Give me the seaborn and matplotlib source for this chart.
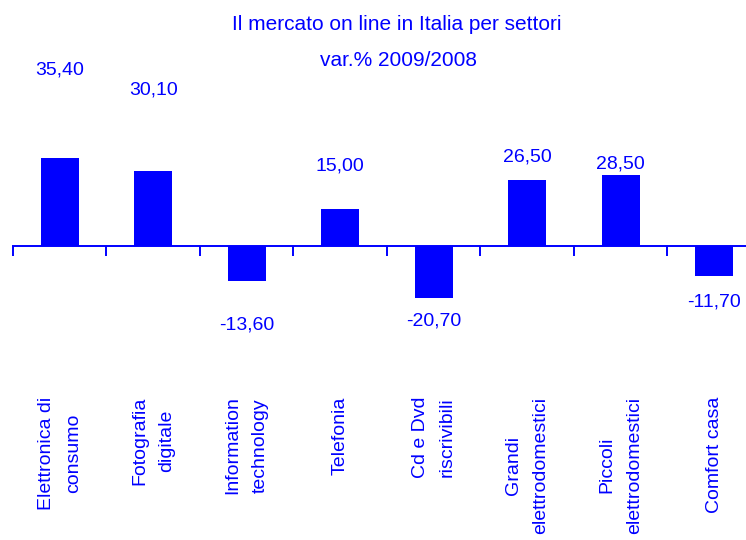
import numpy as np
import pandas as pd
import matplotlib
matplotlib.use('Agg')
import matplotlib.pyplot as plt
import seaborn as sns

# data
settori = ['Elettronica di\nconsumo', 'Fotografia\ndigitale', 'Information\ntechnology',
           'Telefonia', 'Cd e Dvd\nriscrivibili', 'Grandi\nelettrodomestici',
           'Piccoli\nelettrodomestici', 'Comfort casa']
variazione = [35.4, 30.1, -13.6, 15.0, -20.7, 26.5, 28.5, -11.7]
etichette = ['35,40', '30,10', '-13,60', '15,00', '-20,70', '26,50', '28,50', '-11,70']
# where the value labels sit (data units), as in the original layout
pos_etichette = [70.1, 62.2, -31.5, 31.9, -29.9, 35.5, 32.7, -22.3]

blu = '#0000ff'
font = ['Liberation Sans Narrow', 'Liberation Sans', 'DejaVu Sans']

sns.set_style('white')
plt.rcParams['font.family'] = font

df = pd.DataFrame({'settore': settori, 'var': variazione})

fig = plt.figure(figsize=(7.46, 5.40), dpi=100)
ax = fig.add_axes([13 / 746, (540 - 397) / 540, (761 - 13) / 746, 376.5 / 540])

sns.barplot(data=df, x='settore', y='var', color=blu, saturation=1,
            width=0.41, ax=ax, edgecolor='none')

ax.set_xlim(-0.5, 7.5)
ax.set_ylim(-60, 90)

for sp in ['left', 'right', 'top']:
    ax.spines[sp].set_visible(False)
ax.spines['bottom'].set_position(('data', 0))
ax.spines['bottom'].set_color(blu)
ax.spines['bottom'].set_linewidth(1.4)

n = len(settori)
ax.set_xticks(np.arange(n + 1) - 0.5)
ax.set_xticklabels([''] * (n + 1))
ax.set_xticks(np.arange(n), minor=True)
ax.set_xticklabels(settori, minor=True, rotation=90, ha='center', va='top',
                   multialignment='center', linespacing=1.8,
                   color=blu, fontsize=14)
ax.tick_params(axis='x', which='major', direction='out', length=7, width=1.4,
               color=blu, bottom=True)
ax.tick_params(axis='x', which='minor', length=0, pad=108)
ax.set_yticks([])
ax.set_xlabel('')
ax.set_ylabel('')

for i, (lab, yy) in enumerate(zip(etichette, pos_etichette)):
    ax.text(i, yy, lab, ha='center', va='center', color=blu, fontsize=14,
            clip_on=False)

fig.text(397 / 746, 1 - 25 / 540, 'Il mercato on line in Italia per settori',
         ha='center', va='center', color=blu, fontsize=15)
fig.text(398 / 746, 1 - 60 / 540, 'var.% 2009/2008',
         ha='center', va='center', color=blu, fontsize=15)

fig.savefig('out.png', dpi=100)
